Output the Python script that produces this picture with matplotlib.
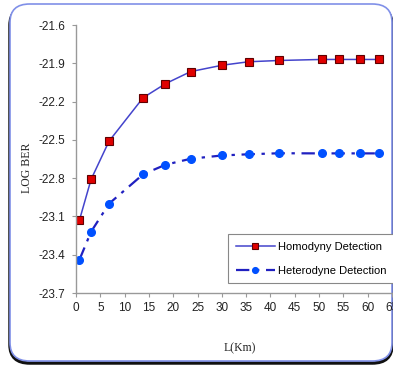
import matplotlib.pyplot as plt
from matplotlib.patches import FancyBboxPatch

# distance (km)
L_homo = [0.7, 3.1, 6.8, 13.8, 18.4, 23.6, 30.1, 35.5, 41.8, 50.5, 54.2, 58.4, 62.3]
ber_homo = [-23.13, -22.81, -22.51, -22.17, -22.06, -21.965, -21.915, -21.888, -21.878, -21.87, -21.87, -21.87, -21.87]

L_het = [0.7, 3.1, 6.8, 13.8, 18.4, 23.6, 30.1, 35.5, 41.8, 50.5, 54.2, 58.4, 62.3]
ber_het = [-23.44, -23.22, -23.0, -22.77, -22.695, -22.648, -22.622, -22.613, -22.605, -22.606, -22.606, -22.606, -22.606]

xticks = list(range(0, 70, 5))
yticks = [-23.7, -23.4, -23.1, -22.8, -22.5, -22.2, -21.9, -21.6]

fig = plt.figure(figsize=(3.93, 3.65), dpi=100)

# rounded outer frame with dark shadow at the bottom
shadow = FancyBboxPatch((10 / 393, 2 / 365), 382 / 393, 356 / 365,
                        boxstyle="round,pad=0,rounding_size=0.05",
                        transform=fig.transFigure, facecolor='none',
                        edgecolor='#111111', linewidth=2.5, zorder=-2)
frame = FancyBboxPatch((10 / 393, 4 / 365), 382 / 393, 357 / 365,
                       boxstyle="round,pad=0,rounding_size=0.05",
                       transform=fig.transFigure, facecolor='white',
                       edgecolor='#8090e8', linewidth=1.2, zorder=-1)
fig.patches.append(shadow)
fig.patches.append(frame)

ax = fig.add_axes([76 / 393, 72 / 365, 316 / 393, 268 / 365])
ax.set_zorder(2)
ax.patch.set_alpha(0)

ax.plot(L_homo, ber_homo, color='#4444cc', lw=1.1, marker='s', ms=6,
        mfc='#e00000', mec='#600000', mew=0.8, label='Homodyny Detection')
ax.plot(L_het, ber_het, color='#2020c0', lw=1.6, ls=(0, (6, 3, 1.5, 3)), marker='o', ms=5.5,
        mfc='#0050ff', mec='#0050ff', label='Heterodyne Detection')

ax.set_xlim(0, 65)
ax.set_ylim(-23.7, -21.6)
ax.set_xticks(xticks)
ax.set_yticks(yticks)
ax.set_yticklabels([f'{v:.1f}' for v in yticks])

for s in ['top', 'right']:
    ax.spines[s].set_visible(False)
for s in ['left', 'bottom']:
    ax.spines[s].set_color('#999999')
    ax.spines[s].set_linewidth(1.0)
ax.tick_params(axis='both', colors='#999999', labelcolor='#222222', labelsize=8.5,
               length=3, width=0.8)
ax.tick_params(axis='y', pad=5)
for lab in ax.get_xticklabels() + ax.get_yticklabels():
    lab.set_family('Liberation Sans')

fig.text(240 / 393, 1 - 348 / 365, 'L(Km)', family='Liberation Serif', fontsize=8.5,
         ha='center', va='center', color='#222222')
fig.text(27 / 393, 1 - 168 / 365, 'LOG BER', family='Liberation Serif', fontsize=8.5,
         ha='center', va='center', rotation=90, color='#222222')

leg = ax.legend(loc='upper left', bbox_to_anchor=(228 / 393, 1 - 234 / 365),
                bbox_transform=fig.transFigure, fancybox=False, framealpha=1,
                edgecolor='#888888', prop={'family': 'Liberation Sans', 'size': 8},
                handlelength=3.5, handletextpad=0.3, borderpad=0.7, labelspacing=1.25,
                borderaxespad=0, markerscale=0.75)
leg.get_frame().set_linewidth(0.8)

fig.savefig('out.png', dpi=100)
